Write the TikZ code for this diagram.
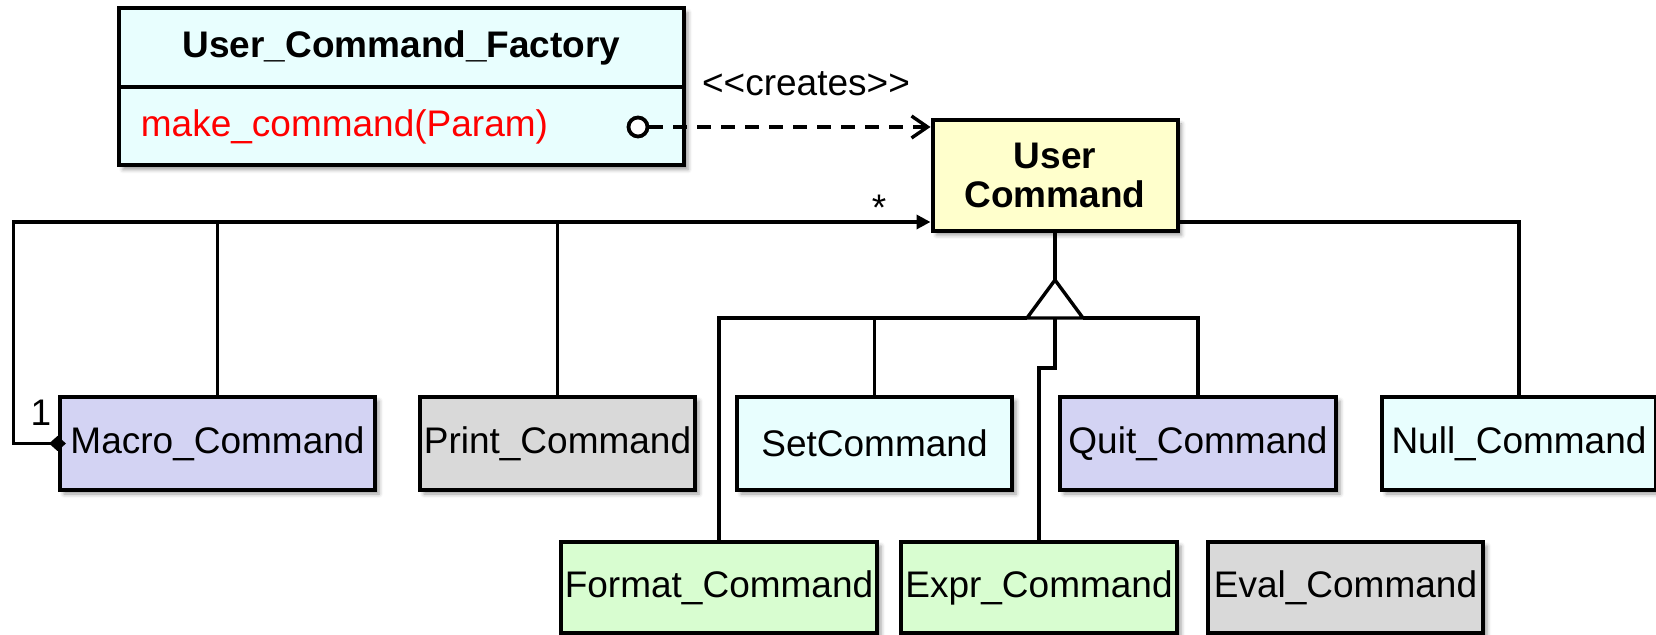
\documentclass[tikz,border=0pt]{standalone}
\usepackage{fontspec}
\setmainfont{Liberation Sans}
\usetikzlibrary{arrows.meta,shadows.blur,calc}

\definecolor{cyanfill}{HTML}{E8FEFE}
\definecolor{yellowfill}{HTML}{FFFFCC}
\definecolor{lavfill}{HTML}{D3D3F3}
\definecolor{grayfill}{HTML}{D9D9D9}
\definecolor{greenfill}{HTML}{D8FDD0}

\begin{document}
\begin{tikzpicture}[x=0.5pt,y=-0.5pt,
  txt/.style={font=\fontsize{18.5}{19.5}\selectfont},
  cls/.style={txt, draw, line width=2pt, inner sep=0pt,
    blur shadow={shadow xshift=2pt, shadow yshift=-2pt,
      shadow blur radius=2pt, shadow opacity=40}},
  rowbox/.style={cls, minimum height=46.5pt},
  conn/.style={line width=1.7pt},
  dashline/.style={conn, dash pattern=on 7pt off 5pt}]
\useasboundingbox (0,0) rectangle (1656,635);

% factory class with one operation
\node[cls, fill=cyanfill, minimum width=282.5pt, minimum height=78.5pt] (factory) at (401.5,87) {};
\draw[line width=2pt] (factory.west) -- (factory.east);
\node[txt, font=\fontsize{18.5}{19.5}\selectfont\bfseries] (ftitle) at (401.5,47.5) {User\_Command\_Factory};
\node[txt, anchor=west, text=red, inner sep=0pt] (fmeth) at (140.5,127) {make\_command(Param)};
\node[draw, circle, line width=1.9pt, minimum size=9.5pt, inner sep=0pt, fill=white] (port) at (638,127) {};

% abstract command
\node[cls, fill=yellowfill, minimum width=122.5pt, minimum height=55.5pt, align=center,
  font=\fontsize{18.5}{19.5}\selectfont\bfseries] (uc) at (1055,175.5) {User\\Command};

% concrete commands, first row
\node[rowbox, fill=lavfill, minimum width=157.5pt] (macro) at (217.5,443.5) {Macro\_Command};
\node[rowbox, fill=grayfill, minimum width=137.5pt] (print) at (557.5,443.5) {Print\_Command};
\node[rowbox, fill=cyanfill, minimum width=137.5pt] (set) at (874.5,443.5) {SetCommand};
\node[rowbox, fill=lavfill, minimum width=138pt] (quit) at (1198,443.5) {Quit\_Command};
\node[rowbox, fill=cyanfill, minimum width=137pt] (null) at (1519,443.5) {Null\_Command};

% second row
\node[rowbox, fill=greenfill, minimum width=158pt, minimum height=45.5pt] (format) at (719,587.5) {Format\_Command};
\node[rowbox, fill=greenfill, minimum width=138pt, minimum height=45.5pt] (expr) at (1039,587.5) {Expr\_Command};
\node[rowbox, fill=grayfill, minimum width=137.5pt, minimum height=45.5pt] (eval) at (1345.5,587.5) {Eval\_Command};

% creation dependency
\draw[dashline, -{Straight Barb[length=8pt,width=11pt]}] (port.east) -- (port.east -| uc.west);
\node[txt] (creates) at (806,84) {<\kern0pt<creates>\kern0pt>};

% aggregation of commands in the macro
\coordinate (corner) at (13.7,222);
\draw[conn, {Diamond[length=8.5pt,width=7.5pt]}-{Triangle[length=7pt,width=7pt]}, shorten <=-4pt]
  (macro.west) -| (corner) -- (corner -| uc.west);
\node[txt] (many) at (879,208) {*};
\node[txt] (one) at (41,413) {1};
\draw[conn] (macro.north) -- (macro.north |- corner);
\draw[conn] (print.north) -- (print.north |- corner);
\draw[conn] (uc.east |- corner) -| (null.north);

% generalization tree
\coordinate (tip) at ($(uc.south)+(0,47)$);
\coordinate (bl) at ($(tip)+(-28,38)$);
\coordinate (br) at ($(tip)+(28,38)$);
\coordinate (basec) at ($(tip)+(0,38)$);
\draw[conn] (uc.south) -- (tip);
\draw[conn] (format.north) |- (bl);
\draw[conn] (br) -| (quit.north);
\draw[conn] (set.north) -- (set.north |- bl);
\draw[conn] (basec) -- ++(0,50) -| (expr.north);
\draw[conn, fill=white] (tip) -- (bl) -- (br) -- cycle;
\end{tikzpicture}
\end{document}
